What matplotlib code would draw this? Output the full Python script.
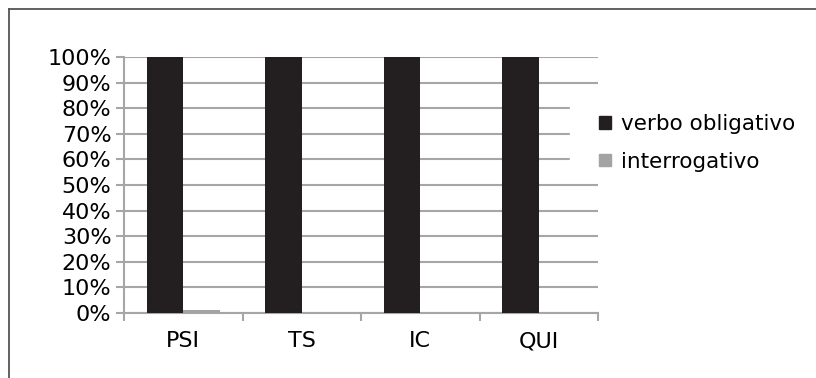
import matplotlib.pyplot as plt
import matplotlib.ticker as ticker
from matplotlib.lines import Line2D
from matplotlib.patches import Rectangle, Patch
import numpy as np

categories = ["PSI", "TS", "IC", "QUI"]
verbo_obligativo = [100, 100, 100, 100]
interrogativo = [1, 0, 0, 0]
series_names = ["verbo obligativo", "interrogativo"]

dark = "#231f20"
light = "#a3a3a3"
grid_color = "#a6a6a6"

plt.rcParams["font.family"] = "DejaVu Sans"

dpi = 100
fig = plt.figure(figsize=(816 / dpi, 378 / dpi), dpi=dpi)
ax = fig.add_axes([124 / 816, 65 / 378, 474 / 816, 256 / 378])

x = np.arange(len(categories))
w = 0.31
ax.bar(x - w / 2, verbo_obligativo, w, color=dark, zorder=3, clip_on=False)
ax.bar(x + w / 2, interrogativo, w, color=light, zorder=3)

ax.set_xlim(-0.5, len(categories) - 0.5)
ax.set_ylim(0, 100)
ax.yaxis.set_major_locator(ticker.MultipleLocator(10))
ax.yaxis.set_major_formatter(ticker.FuncFormatter(lambda v, p: f"{v:.0f}%"))
ax.set_xticks(x)
ax.set_xticklabels(categories)
# tick marks sit between categories, labels under the centres
ax.xaxis.set_minor_locator(ticker.FixedLocator(np.arange(-0.5, len(categories), 1.0)))
ax.tick_params(axis="x", which="major", length=0, pad=13, labelsize=16)
ax.tick_params(axis="x", which="minor", length=6, width=1.5, color=grid_color)
ax.tick_params(axis="y", length=6, width=1.5, color=grid_color, pad=3, labelsize=16)

ax.grid(axis="y", color=grid_color, linewidth=1.5, zorder=0)
ax.set_axisbelow(True)
for side in ("top", "right"):
    ax.spines[side].set_visible(False)
for side in ("left", "bottom"):
    ax.spines[side].set_color(grid_color)
    ax.spines[side].set_linewidth(1.5)

# white block behind the legend hides the ends of a few gridlines
fig.add_artist(Rectangle((570 / 816, 1 - 172 / 378), 40 / 816, 75 / 378,
                         transform=fig.transFigure, color="white", zorder=5))

handles = [Patch(color=dark), Patch(color=light)]
fig.legend(handles, series_names, loc="center left",
           bbox_to_anchor=(580 / 816, 1 - 143 / 378), frameon=False,
           fontsize=15.5, handlelength=0.55, handleheight=0.55,
           handletextpad=0.45, labelspacing=0.8)

# outer frame lines
fig.add_artist(Line2D([9 / 816, 9 / 816], [0, 1 - 9 / 378], color="#555555", lw=1.3))
fig.add_artist(Line2D([9 / 816, 1], [1 - 9 / 378, 1 - 9 / 378], color="#555555", lw=1.3))

fig.savefig("out.png", dpi=dpi)
